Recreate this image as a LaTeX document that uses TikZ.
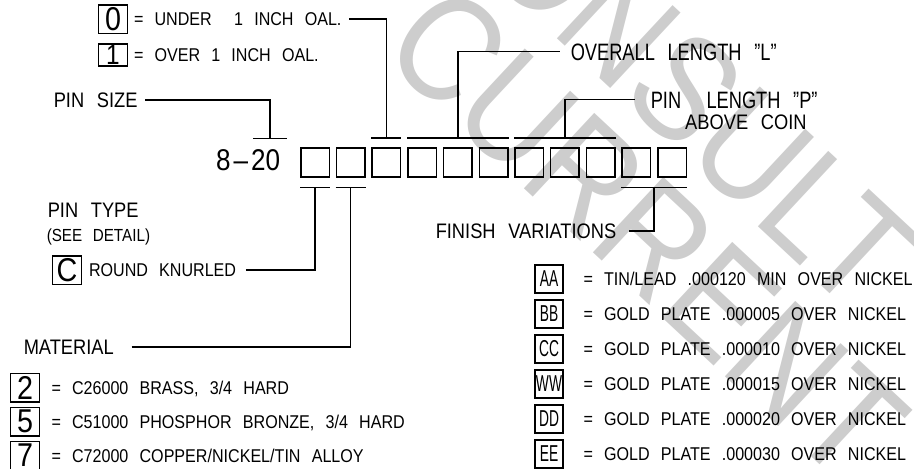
\documentclass[tikz,border=0pt]{standalone}
\usepackage{fontspec}
\setmainfont{Liberation Sans}[FakeStretch=0.87,WordSpace=2.5]
\newfontfamily\tallfont{Liberation Sans}[FakeStretch=0.77,WordSpace=2.5]
\newfontfamily\keyfont{Liberation Sans}[FakeStretch=0.6]
\usetikzlibrary{positioning,calc}
\definecolor{wmgray}{HTML}{CDCDCD}

\begin{document}
\begin{tikzpicture}[
    x=1pt, y=-1pt,
    line width=1.5pt,
    every node/.style={inner sep=0pt},
    cell/.style={draw, minimum width=28.5pt, minimum height=29pt},
    key/.style={draw, minimum width=29pt, minimum height=28.5pt,
                font=\fontsize{33}{33}\selectfont},
    keysm/.style={draw, minimum width=28pt, minimum height=28pt,
                  font=\keyfont\fontsize{23}{23}\selectfont},
    big/.style={font=\tallfont\fontsize{23.7}{24}\selectfont, text height=17pt, text depth=0pt, anchor=west},
    mid/.style={font=\fontsize{21}{21}\selectfont, text height=15pt, text depth=0pt, anchor=west},
    small/.style={font=\fontsize{18.5}{19}\selectfont, text height=13.2pt, text depth=0pt, anchor=west},
    wmark/.style={text=wmgray, font=\fontsize{150}{150}\selectfont, rotate=-43},
  ]
    \useasboundingbox (0,0) rectangle (914,469);

    % watermark
    \begin{scope}
      \clip (0,0) rectangle (914,469);
      \node[wmark] (wm1) at (666,70) {CONSULT};
      \node[wmark] (wm2) at (647,233) {CURRENT};
    \end{scope}

    % part number cells
    \node[font=\fontsize{30}{30}\selectfont, anchor=base east] (sz) at (281,170) {8\kern3pt–\kern3pt20};
    \foreach \i in {1,...,11}
      \node[cell] (b\i) at ({315+35.7*(\i-1)},162.5) {};

    % upper labels
    \node[key] (k0) at (113,19) {0};
    \node[small, right=5pt of k0] (under) {= UNDER\ \ 1 INCH OAL.};
    \node[key, minimum height=22pt, font=\fontsize{28}{28}\selectfont] (k1) at (113,55) {1};
    \node[small, right=5pt of k1] (over) {= OVER 1 INCH OAL.};
    \node[mid] (pinsize) at (53,100) {PIN SIZE};
    \node[big] (overall) at (570,51.5) {OVERALL LENGTH ”L”};
    \node[big] (pinlen) at (650,99.5) {PIN\ \ LENGTH ”P”};
    \node[mid, below left=5pt and 11pt of pinlen.south east] (coin) {ABOVE COIN};

    % pin type and material
    \node[mid] (pintype) at (47,210) {PIN TYPE};
    \node[small, font=\fontsize{17.5}{18}\selectfont, text height=12.5pt] (detail) at (46,235) {(SEE DETAIL)};
    \node[key] (kc) at (67,270) {C};
    \node[small, right=6pt of kc] (knurled) {ROUND KNURLED};
    \node[mid] (material) at (23,347) {MATERIAL};
    \node[key] (k2) at (25,387.5) {2};
    \node[key, below=4pt of k2] (k5) {5};
    \node[key, below=4pt of k5] (k7) {7};
    \node[small, right=10.5pt of k2] (brass) {= C26000 BRASS, 3/4 HARD};
    \node[small, right=10.5pt of k5] (bronze) {= C51000 PHOSPHOR BRONZE, 3/4 HARD};
    \node[small, right=10.5pt of k7] (alloy) {= C72000 COPPER/NICKEL/TIN ALLOY};

    % finish table
    \node[mid] (finish) at (435,231) {FINISH VARIATIONS};
    \node[keysm] (kaa) at (549,279) {AA};
    \node[keysm, below=5.5pt of kaa] (kbb) {BB};
    \node[keysm, below=5.5pt of kbb] (kcc) {CC};
    \node[keysm, below=5.5pt of kcc] (kww) {WW};
    \node[keysm, below=5.5pt of kww] (kdd) {DD};
    \node[keysm, below=5.5pt of kdd] (kee) {EE};
    \node[small, right=19pt of kaa] (faa) {= TIN/LEAD .000120 MIN OVER NICKEL};
    \node[small, right=19pt of kbb] (fbb) {= GOLD PLATE .000005 OVER NICKEL};
    \node[small, right=19pt of kcc] (fcc) {= GOLD PLATE .000010 OVER NICKEL};
    \node[small, right=19pt of kww] (fww) {= GOLD PLATE .000015 OVER NICKEL};
    \node[small, right=19pt of kdd] (fdd) {= GOLD PLATE .000020 OVER NICKEL};
    \node[small, right=19pt of kee] (fee) {= GOLD PLATE .000030 OVER NICKEL};

    % tick bars
    \coordinate (szt) at (270,138.5);
    \coordinate (fin) at ($(b10.south east)!0.5!(b11.south west)+(0,9.5)$);
    \draw ([xshift=-17pt]szt) -- ([xshift=17pt]szt);
    \draw ([yshift=9.5pt]b3.north west) -- ([yshift=9.5pt]b3.north east);
    \draw ([yshift=9.5pt]b4.north west) -- ([yshift=9.5pt]b6.north east);
    \draw ([yshift=9.5pt]b7.north west) -- ([yshift=9.5pt]b9.north east);
    \draw ([yshift=-9.5pt]b1.south west) -- ([yshift=-9.5pt]b1.south east);
    \draw ([yshift=-9.5pt]b2.south west) -- ([yshift=-9.5pt]b2.south east);
    \draw ([yshift=-9.5pt]b10.south west) -- ([yshift=-9.5pt]b11.south east);

    % leaders
    \draw (pinsize.east) ++(7,0) -- (szt |- pinsize.east) -- (szt);
    \draw (under.east) ++(7,0) -- (b3 |- under.east) -- ([yshift=9.5pt]b3.north);
    \draw ([yshift=9.5pt]b5.north) -- (b5 |- overall.west) -- ([xshift=-10pt]overall.west);
    \draw ([yshift=9.5pt]b8.north) -- (b8 |- pinlen.west) -- ([xshift=-15pt]pinlen.west);
    \draw (knurled.east) ++(9,0) -- (b1 |- knurled.east) -- ([yshift=-9.5pt]b1.south);
    \draw (material.east) ++(17,0) -- (b2 |- material.east) -- ([yshift=-9.5pt]b2.south);
    \draw (finish.east) ++(12,0) -- (fin |- finish.east) -- (fin);
  \end{tikzpicture}
\end{document}
